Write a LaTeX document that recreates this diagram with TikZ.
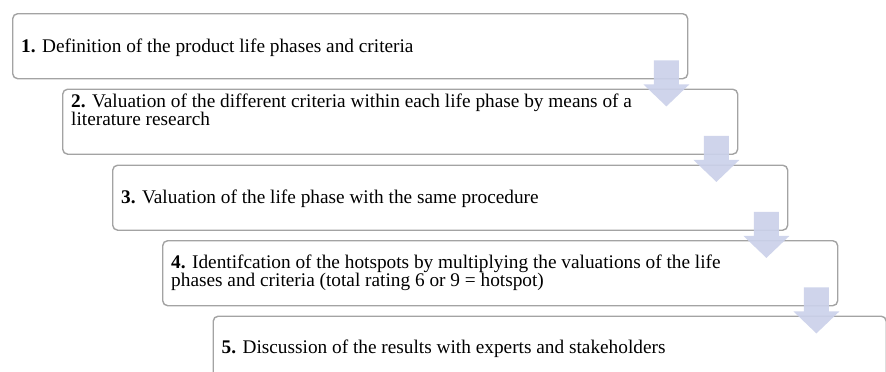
\documentclass[tikz,border=0pt]{standalone}
\usepackage{fontspec}
\setmainfont{Liberation Serif}
\usetikzlibrary{calc}
\definecolor{boxline}{HTML}{A3A3A3}
\definecolor{arrowfill}{HTML}{CBD1EA}
\tikzset{
  stepbox/.style={draw=boxline, line width=1.4pt, rounded corners=5pt, fill=white,
    minimum width=675pt, minimum height=65pt, inner sep=0pt, anchor=north west},
  steptext/.style={anchor=base west, inner sep=0pt, align=left,
    font=\fontsize{19.3pt}{18.5pt}\selectfont},
  blockarrow/.style={fill=arrowfill, draw=none, opacity=0.92},
}
\newcommand{\blockarr}[1]{%
  \fill[blockarrow]
    ($(#1.south east)+(-34.5,-19)$) -- ($(#1.south east)+(-9.5,-19)$)
    -- ($(#1.south east)+(-9.5,5)$) -- ($(#1.south east)+(1,5)$)
    -- ($(#1.south east)+(-22,27)$) -- ($(#1.south east)+(-45,5)$)
    -- ($(#1.south east)+(-34.5,5)$) -- cycle;}
\begin{document}
\begin{tikzpicture}[x=1pt,y=-1pt]
\useasboundingbox (0,0) rectangle (886,372);
\node[stepbox] (b1) at (12,13) {};
\node[stepbox] (b2) at (62,88.5) {};
\node[stepbox] (b3) at (112,164.5) {};
\node[stepbox] (b4) at (162,240) {};
\node[stepbox,minimum width=673pt,minimum height=80pt] (b5) at (212.5,315.5) {};
\node[steptext] (t1) at ($(b1.north west)+(9,39)$) {\textbf{1.} Definition of the product life phases and criteria};
\node[steptext] (t2) at ($(b2.north west)+(9,37)$) {\textbf{2.} Valuation of the different criteria within each life phase by means of a\\literature research};
\node[steptext] (t3) at ($(b3.north west)+(9,39)$) {\textbf{3.} Valuation of the life phase with the same procedure};
\node[steptext] (t4) at ($(b4.north west)+(9,46.5)$) {\textbf{4.} Identifcation of the hotspots by multiplying the valuations of the life\\phases and criteria (total rating 6 or 9 = hotspot)};
\node[steptext] (t5) at ($(b5.north west)+(9,38)$) {\textbf{5.} Discussion of the results with experts and stakeholders};
\blockarr{b1}
\blockarr{b2}
\blockarr{b3}
\blockarr{b4}
\end{tikzpicture}
\end{document}
